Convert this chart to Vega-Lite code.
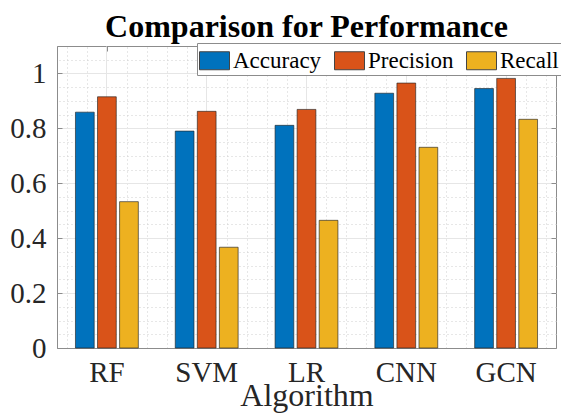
{
  "$schema": "https://vega.github.io/schema/vega-lite/v6.json",
  "autosize": "none",
  "width": 499,
  "height": 302,
  "padding": {"left": 57, "top": 46, "right": 5, "bottom": 66},
  "background": "white",
  "title": {
    "text": "Comparison for Performance",
    "font": "Liberation Serif",
    "fontSize": 32,
    "fontWeight": "bold",
    "color": "#000000",
    "anchor": "middle",
    "offset": -1
  },
  "config": {
    "view": {"stroke": "#8c8c8c", "strokeWidth": 1},
    "axis": {"labelFont": "Liberation Serif", "titleFont": "Liberation Serif"}
  },
  "data": {
    "values": [
      {"algorithm": "RF", "metric": "Accuracy", "value": 0.859},
      {"algorithm": "RF", "metric": "Precision", "value": 0.915},
      {"algorithm": "RF", "metric": "Recall", "value": 0.533},
      {"algorithm": "SVM", "metric": "Accuracy", "value": 0.790},
      {"algorithm": "SVM", "metric": "Precision", "value": 0.862},
      {"algorithm": "SVM", "metric": "Recall", "value": 0.367},
      {"algorithm": "LR", "metric": "Accuracy", "value": 0.811},
      {"algorithm": "LR", "metric": "Precision", "value": 0.869},
      {"algorithm": "LR", "metric": "Recall", "value": 0.465},
      {"algorithm": "CNN", "metric": "Accuracy", "value": 0.928},
      {"algorithm": "CNN", "metric": "Precision", "value": 0.965},
      {"algorithm": "CNN", "metric": "Recall", "value": 0.731},
      {"algorithm": "GCN", "metric": "Accuracy", "value": 0.945},
      {"algorithm": "GCN", "metric": "Precision", "value": 0.982},
      {"algorithm": "GCN", "metric": "Recall", "value": 0.833}
    ]
  },
  "layer": [
    {
      "mark": {"type": "point", "opacity": 0},
      "encoding": {
        "x": {
          "field": "value", "type": "quantitative",
          "scale": {"domain": [0.5, 5.5], "nice": false, "zero": false},
          "axis": {
            "orient": "top",
            "values": [0.6, 0.8, 1.2, 1.4, 1.6, 1.8, 2.2, 2.4, 2.6, 2.8, 3.2, 3.4, 3.6, 3.8, 4.2, 4.4, 4.6, 4.8, 5.2, 5.4],
            "grid": true, "gridColor": "#cfcfcf", "gridDash": [1, 3], "gridWidth": 1,
            "labels": false, "ticks": false, "domain": false, "title": null
          }
        },
        "y": {
          "field": "value", "type": "quantitative",
          "scale": {"domain": [0, 1.1], "nice": false},
          "axis": {
            "orient": "right",
            "values": [0.05, 0.1, 0.15, 0.25, 0.3, 0.35, 0.45, 0.5, 0.55, 0.65, 0.7, 0.75, 0.85, 0.9, 0.95, 1.05],
            "grid": true, "gridColor": "#cfcfcf", "gridDash": [1, 3], "gridWidth": 1,
            "labels": false, "ticks": false, "domain": false, "title": null
          }
        }
      }
    },
    {
      "mark": {"type": "point", "opacity": 0},
      "encoding": {
        "x": {
          "field": "value", "type": "quantitative",
          "scale": {"domain": [0.5, 5.5], "nice": false, "zero": false},
          "axis": {
            "orient": "top", "values": [1, 2, 3, 4, 5],
            "grid": false, "labels": false, "ticks": true, "tickSize": -5,
            "tickColor": "#8c8c8c", "domain": false, "title": null
          }
        },
        "y": {
          "field": "value", "type": "quantitative",
          "scale": {"domain": [0, 1.1], "nice": false},
          "axis": {
            "orient": "right", "values": [0, 0.2, 0.4, 0.6, 0.8, 1],
            "grid": false, "labels": false, "ticks": true, "tickSize": -5,
            "tickColor": "#8c8c8c", "domain": false, "title": null
          }
        }
      }
    },
    {
      "mark": {"type": "bar", "stroke": "#222222", "strokeWidth": 0.8, "strokeOpacity": 0.8},
      "encoding": {
        "x": {
          "field": "algorithm", "type": "nominal", "sort": ["RF", "SVM", "LR", "CNN", "GCN"],
          "scale": {"paddingInner": 0.37, "paddingOuter": 0.185},
          "axis": {
            "orient": "bottom", "labelAngle": 0, "bandPosition": 0.5,
            "grid": true, "gridColor": "#e6e6e6", "gridWidth": 1,
            "tickSize": -5, "tickColor": "#8c8c8c", "domainColor": "#8c8c8c",
            "labelFontSize": 29, "labelColor": "#262626", "labelPadding": 15,
            "title": "Algorithm", "titleFontSize": 32, "titleFontWeight": "normal",
            "titleColor": "#262626", "titlePadding": -7
          }
        },
        "xOffset": {
          "field": "metric", "type": "nominal",
          "scale": {"paddingInner": 0.15, "paddingOuter": 0}
        },
        "y": {
          "field": "value", "type": "quantitative",
          "scale": {"domain": [0, 1.1], "nice": false},
          "axis": {
            "orient": "left", "values": [0, 0.2, 0.4, 0.6, 0.8, 1], "format": "~g",
            "grid": true, "gridColor": "#e6e6e6", "gridWidth": 1,
            "tickSize": -5, "tickColor": "#8c8c8c", "domainColor": "#8c8c8c",
            "labelFontSize": 29, "labelColor": "#262626", "labelPadding": 16,
            "title": null
          }
        },
        "color": {
          "field": "metric", "type": "nominal",
          "scale": {"domain": ["Accuracy", "Precision", "Recall"], "range": ["#0072BD", "#D95319", "#EDB120"]},
          "legend": {
            "title": null,
            "orient": "none", "legendX": 140, "legendY": -3,
            "direction": "horizontal",
            "fillColor": "white", "strokeColor": "#8c8c8c", "padding": 2,
            "symbolType": "M-1,-0.6H1V0.6H-1Z", "symbolSize": 900,
            "symbolStrokeColor": "#444444", "symbolStrokeWidth": 1, "symbolOpacity": 1,
            "labelFont": "Liberation Serif", "labelFontSize": 23, "labelColor": "#000000",
            "labelOffset": 3, "columnPadding": 10, "labelLimit": 200
          }
        }
      }
    }
  ],
  "resolve": {
    "scale": {"x": "independent"},
    "axis": {"x": "independent", "y": "independent"}
  }
}
